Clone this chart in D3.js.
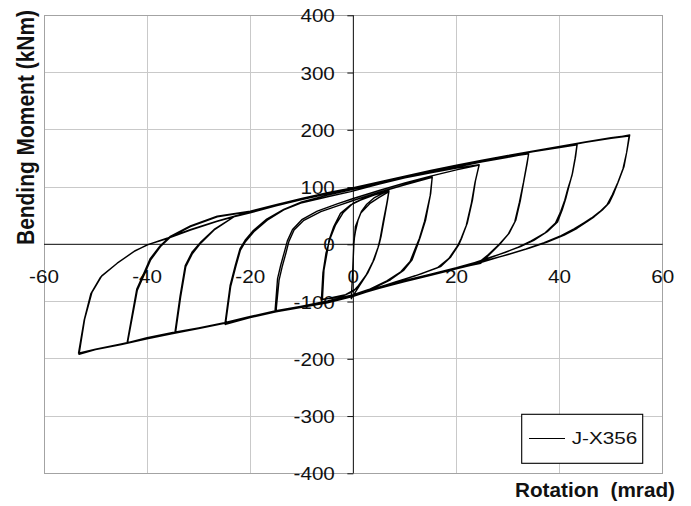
<!DOCTYPE html>
<html>
<head>
<meta charset="utf-8">
<script src="https://cdn.jsdelivr.net/npm/d3@7"></script>
<style>
  html, body { margin: 0; padding: 0; background: #fff; }
  svg { display: block; }
  text { font-family: "Liberation Sans", Arial, sans-serif; fill: #111; }
</style>
</head>
<body>
<svg id="chart" width="691" height="506"></svg>
<script>
// Moment-rotation record of specimen J-X356, in loading order.
// Each stage holds the cycles at one rotation amplitude: [rotation (mrad), moment (kNm)].
const stage1 = [
  [0,0],[0.4,22],[0.9,42],[1.6,58],[2.6,70],[4,81],[5.5,88],[6.9,94],
  [6.6,77],[5.9,42],[5.3,13],[5,0],[4,-27],[2.7,-51],[1,-72],[0,-82],[-2,-90],[-4,-94],[-6,-96],
  [-5.7,-45],[-5,-10],[-4.7,8],[-3.8,31],[-2.5,54],[-0.5,69],[1.4,77],[4,86],[6.9,93],
  [6.6,75],[6,45],[5.4,15],[5,0],[4.1,-25],[2.8,-50],[1.2,-72],[0.3,-85],[-0.4,-95],
  [-0.2,-60],[0,-20],[0.1,0],[0.4,31],[1.4,54],[3.3,72],[5,82],[6.9,92],
  [6.5,72],[5.8,40],[5.2,10],[4.8,-5],[3.8,-30],[2.4,-55],[0.5,-78],[-1.5,-88],[-4,-93],[-6.2,-97]
];
const stage2 = [
  [-5.9,-50],[-5.3,-15],[-4.5,10],[-3.5,33],[-2,55],[0,72],[3,84],[7,96],[11,107],[15.3,118],
  [15,89],[14,42],[13,13],[12.5,0],[11.4,-27],[9.8,-45],[7.2,-62],[4,-76],[0,-89],[-5,-100],[-10,-109],[-15,-117],
  [-14.4,-62],[-13.8,-39],[-13.1,-16],[-12.5,5],[-11.5,25],[-9.6,42],[-6.3,57],[-2.5,69],[0.1,77],[5,91],[10,104],[15.3,117],
  [14.9,85],[13.8,40],[12.8,10],[12.2,-3],[11,-30],[9.2,-48],[6.5,-64],[3,-79],[0,-88],[-5,-99],[-10,-108],[-15.2,-118]
];
const stage3 = [
  [-14.7,-60],[-14.1,-37],[-13.4,-14],[-12.8,6],[-11.8,26],[-10,43],[-7,58],[-3,71],[0,80],[5,94],[10,107],[15,119],[20,130],[24.4,138.5],
  [23.7,112],[23.1,77],[22.1,37],[21.1,13],[20.5,0],[18.9,-22],[16.9,-39],[13,-52],[8,-66],[3,-81],[0,-90],[-5,-102],[-10,-110],[-15,-118],[-20,-128],[-24.8,-140],
  [-23.8,-74],[-22.8,-39],[-21.9,-10],[-20.9,5],[-19.3,22],[-16.7,42],[-13.5,60],[-10.2,72],[-5,83],[-0.5,92],[5,105],[10,116],[15,125],[20,133],[24.4,139],
  [23.6,108],[22.9,72],[21.9,33],[20.9,10],[20.2,-3],[18.5,-25],[16.3,-41],[12,-55],[7,-69],[2,-83],[0,-88],[-5,-100],[-10,-109],[-15,-117],[-20,-127],[-24.9,-139]
];
const stage4 = [
  [-23.9,-72],[-22.9,-37],[-22,-8],[-21,7],[-19.4,24],[-16.8,44],[-13.5,61],[-10,74],[-5,86],[0,96],[5,106],[10,117],[15,126],[20,135],[25,144],[30,152],[34,159],
  [33.7,141],[33.1,112],[32.4,77],[31.5,42],[30.2,19],[28.6,2],[26.6,-16],[24.7,-33],[20,-42],[15,-53],[10,-64],[5,-76],[0,-91],[-5,-102],[-10,-110],[-15,-117],[-20,-127],[-25,-138],[-30,-147],[-34.5,-155],
  [-33.5,-92],[-32.5,-39],[-31.2,-16],[-29.6,2],[-27,25],[-23.2,48],[-20,55],[-15,67],[-10,78],[-5,88],[0,97],[5,107],[10,117],[15,127],[20,136],[25,145],[30,153],[34,158],
  [33.6,138],[33,108],[32.2,73],[31.3,39],[30,17],[28.3,0],[26.2,-18],[24,-34],[20,-43],[15,-54],[10,-65],[5,-77],[0,-90],[-5,-101],[-10,-109],[-15,-116],[-20,-126],[-25,-137],[-30,-146],[-34.6,-154]
];
const stage5 = [
  [-33.6,-90],[-32.6,-37],[-31.3,-14],[-29.7,3],[-27,26],[-23,49],[-20,56],[-15,68],[-10,79],[-5,89],[0,98],[5,108],[10,118],[15,128],[20,137],[25,145],[30,154],[35,162],[40,169],[43.4,174],
  [43.1,153],[42.5,124],[41.8,101],[41.2,80],[40.5,60],[39.6,39],[37.6,22],[35,7],[32.4,-4],[30,-12],[27,-22],[24,-31],[20,-41],[15,-52],[10,-63],[5,-75],[0,-89],[-5,-100],[-10,-108],[-15,-116],[-20,-126],[-25,-137],[-30,-146],[-35,-154],[-40,-163],[-43.8,-172],
  [-41.9,-80],[-40.6,-54],[-39.3,-27],[-37.4,-4],[-35.4,13],[-31.6,31],[-26.4,48],[-20,57],[-15,68],[-10,79],[-5,89],[0,98],[5,108],[10,118],[15,128],[20,137],[25,146],[30,154],[35,162],[40,170],[43.4,175],
  [43,150],[42.4,120],[41.6,97],[41,77],[40.2,57],[39.2,37],[37.2,20],[34.5,6],[32,-5],[29.5,-14],[26.5,-23],[23.5,-32],[20,-42],[15,-53],[10,-64],[5,-76],[0,-90],[-5,-101],[-10,-109],[-15,-117],[-20,-127],[-25,-138],[-30,-147],[-35,-155],[-40,-164],[-43.9,-173]
];
const stage6 = [
  [-42,-78],[-40.7,-52],[-39.4,-25],[-37.5,-3],[-35.5,14],[-31.6,32],[-26.4,49],[-20,58],[-15,69],[-10,80],[-5,90],[0,99],[5,109],[10,119],[15,129],[20,138],[25,147],[30,155],[35,163],[40,171],[45,178],[50,185],[53.6,191],
  [53.1,165],[52.5,136],[51.5,112],[50.5,89],[49.6,72],[48.3,60],[46.7,48],[45.4,40],[43.4,28],[40.9,16],[37.6,4],[34,-7],[30,-18],[25,-30],[20,-41],[15,-52],[10,-63],[5,-75],[0,-88],[-5,-100],[-10,-108],[-15,-116],[-20,-126],[-25,-137],[-30,-146],[-35,-155],[-40,-164],[-45,-174],[-50,-183],[-53.3,-190],
  [-52.2,-132],[-50.9,-86],[-49,-57],[-45.8,-33],[-42.6,-13],[-40,-1],[-36.1,10],[-31.6,25],[-26.4,40],[-20,56],[-15,68],[-10,79],[-5,89],[0,98],[5,108],[10,118],[15,128],[20,137],[25,146],[30,155],[35,163],[40,171],[45,179],[50,186],[53.5,190],
  [53,160],[52.3,132],[51.3,108],[50.2,86],[49.2,69],[47.8,57],[46.2,46],[44.8,38],[42.8,27],[40.3,15],[37,3],[33.5,-8],[29.5,-19],[25,-31],[20,-43],[15,-54],[10,-65],[5,-77],[0,-90],[-5,-101],[-10,-109],[-15,-117],[-20,-127],[-25,-138],[-30,-147],[-35,-156],[-40,-165],[-45,-175],[-50,-184],[-53.2,-192],
  [-52.1,-130],[-50.7,-84],[-48.8,-55],[-45.5,-31],[-42.3,-11],[-39.7,0],[-36,11],[-31.5,26],[-26.3,41],[-20,57],[-15,68],[-10,78],[-5,88],[0,97],[5,107],[10,117],[15,127],[20,136],[25,145],[30,154],[35,162],[40,170],[45,178],[50,185],[53.4,189]
];

const seriesName = "J-X356";
const xTickValues = [-60, -40, -20, 0, 20, 40, 60];
const yTickValues = [-400, -300, -200, -100, 0, 100, 200, 300, 400];
const xTitle = "Rotation\u00a0\u00a0(mrad)";
const yTitle = "Bending Moment (kNm)";

const record = [].concat(stage1, stage2, stage3, stage4, stage5, stage6);

const svg = d3.select("#chart");
const plot = { left: 44, right: 662.7, top: 15.3, bottom: 473.3 };

const x = d3.scaleLinear().domain([-60, 60]).range([plot.left, plot.right]);
const y = d3.scaleLinear().domain([-400, 400]).range([plot.bottom, plot.top]);

const stretch = 1.18; // glyphs in this chart are set slightly wide

// grid
const grid = svg.append("g").attr("stroke", "#c9c9c9").attr("stroke-width", 1).attr("shape-rendering", "crispEdges");
grid.selectAll("line.v").data(xTickValues).join("line")
  .attr("x1", d => x(d)).attr("x2", d => x(d)).attr("y1", plot.top).attr("y2", plot.bottom);
grid.selectAll("line.h").data(yTickValues).join("line")
  .attr("x1", plot.left).attr("x2", plot.right).attr("y1", d => y(d)).attr("y2", d => y(d));

// plot frame
svg.append("rect")
  .attr("x", plot.left).attr("y", plot.top)
  .attr("width", plot.right - plot.left).attr("height", plot.bottom - plot.top)
  .attr("fill", "none").attr("stroke", "#a3a3a3").attr("stroke-width", 1)
  .attr("shape-rendering", "crispEdges");

// tick labels
const xLab = svg.append("g").attr("font-size", 17.5).attr("text-anchor", "middle");
xTickValues.forEach(v => {
  xLab.append("text")
    .attr("transform", `translate(${x(v)},${y(0) + 39}) scale(${stretch},1)`)
    .text(v);
});
const yLab = svg.append("g").attr("font-size", 17.5).attr("text-anchor", "end");
yTickValues.forEach(v => {
  yLab.append("text")
    .attr("transform", `translate(${x(0) - 18.5},${y(v) + 7}) scale(${stretch},1)`)
    .text(v);
});

// axes through the origin
const yAxis = d3.axisLeft(y).tickValues(yTickValues).tickSize(6).tickFormat("");
svg.append("g").attr("transform", `translate(${x(0)},0)`).call(yAxis)
  .call(g => g.selectAll("path,line").attr("stroke", "#111"))
  .call(g => g.select(".domain").attr("d", `M0,${plot.top}V${plot.bottom}`));
const xAxis = d3.axisBottom(x).tickValues(xTickValues).tickSize(0).tickFormat("");
svg.append("g").attr("transform", `translate(0,${y(0)})`).call(xAxis)
  .call(g => g.selectAll("path,line").attr("stroke", "#111"))
  .call(g => g.select(".domain").attr("d", `M${plot.left},0H${plot.right}`));

// hysteresis curve
const line = d3.line().x(d => x(d[0])).y(d => y(d[1])).curve(d3.curveLinear);
svg.append("path")
  .datum(record)
  .attr("d", line)
  .attr("fill", "none")
  .attr("stroke", "#000")
  .attr("stroke-width", 1.4)
  .attr("stroke-linejoin", "round");

// legend
const lg = svg.append("g");
lg.append("rect").attr("x", 521.7).attr("y", 414.3).attr("width", 121).attr("height", 49)
  .attr("fill", "#fff").attr("stroke", "#000").attr("stroke-width", 1.1);
lg.append("line").attr("x1", 529).attr("x2", 565).attr("y1", 438.5).attr("y2", 438.5)
  .attr("stroke", "#000").attr("stroke-width", 1.2);
lg.append("text").attr("x", 571.7).attr("y", 443.5).attr("font-size", 17)
  .attr("textLength", 65.6).attr("lengthAdjust", "spacingAndGlyphs").text(seriesName);

// axis titles
svg.append("text")
  .attr("x", 515).attr("y", 497)
  .attr("font-size", 20).attr("font-weight", "bold")
  .attr("textLength", 160).attr("lengthAdjust", "spacingAndGlyphs")
  .text(xTitle);
svg.append("text")
  .attr("transform", `translate(34,127.5) scale(1.12,1) rotate(-90)`)
  .attr("text-anchor", "middle")
  .attr("font-size", 21).attr("font-weight", "bold")
  .attr("textLength", 235).attr("lengthAdjust", "spacingAndGlyphs")
  .text(yTitle);
</script>
</body>
</html>
